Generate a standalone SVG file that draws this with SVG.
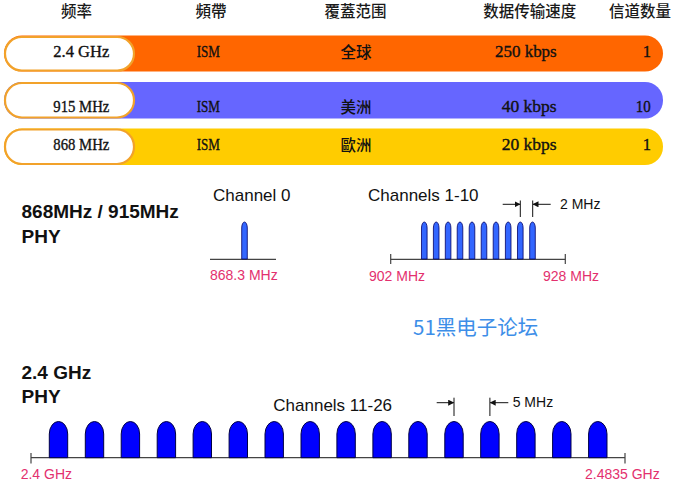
<svg xmlns="http://www.w3.org/2000/svg" width="681" height="491" viewBox="0 0 681 491">
<style>
.hdr{font-family:"Noto Sans CJK SC","Liberation Sans",sans-serif;font-size:15.5px;font-weight:500;fill:#1a1a1a;text-anchor:middle}
.cell{font-family:"Liberation Serif","Noto Sans CJK SC",serif;font-size:16.5px;fill:#111;stroke:#111;stroke-width:0.35}
.cjk{font-family:"Noto Sans CJK SC",sans-serif;font-size:15.5px;font-weight:500;fill:#111;text-anchor:middle}
.pill{fill:#fff;stroke:#f2a22a;stroke-width:2.2}
.phy{font-family:"Liberation Sans",Arial,sans-serif;font-size:19px;font-weight:bold;fill:#111}
.ch{font-family:"Liberation Sans",Arial,sans-serif;font-size:17px;fill:#111}
.dim{font-family:"Liberation Sans",Arial,sans-serif;font-size:14px;fill:#111}
.freq{font-family:"Liberation Sans",Arial,sans-serif;font-size:14px;fill:#e3306e}
.axis{stroke:#444;stroke-width:1.2;fill:none}
.spike{fill:#3366ff;stroke:#000066;stroke-width:0.8}
.hump{fill:#0000ff;stroke:#000044;stroke-width:1}
.arr{stroke:#111;stroke-width:1;fill:none}
</style>
<defs>
<marker id="ah" markerWidth="6" markerHeight="6" refX="5.5" refY="3" orient="auto" markerUnits="userSpaceOnUse">
<path d="M0,0 L6,3 L0,6 Z" fill="#111"/>
</marker>
<path id="sp" class="spike" d="M-2.8,259 V228 A2.8,6 0 0 1 2.8,228 V259 Z"/>
<path id="hp" class="hump" d="M-9.2,457.7 V434 A9.2,12.5 0 0 1 9.2,434 V457.7 Z"/>
</defs>
<rect width="681" height="491" fill="#fff"/>

<g id="header">
<text class="hdr" x="76.5" y="17">频率</text>
<text class="hdr" x="211" y="17">頻帶</text>
<text class="hdr" x="355.5" y="17">覆蓋范围</text>
<text class="hdr" x="529.7" y="17">数据传输速度</text>
<text class="hdr" x="640" y="17">信道数量</text>
</g>

<g id="row-24ghz">
<rect x="4" y="35.5" width="659" height="36" rx="18" fill="#ff6600"/>
<rect class="pill" x="5" y="37" width="129" height="33.5" rx="16.7"/>
<text class="cell" x="53.3" y="56.7" textLength="56" lengthAdjust="spacingAndGlyphs">2.4 GHz</text>
<text class="cell" x="196.7" y="56.7" textLength="23.3" lengthAdjust="spacingAndGlyphs">ISM</text>
<text class="cjk" x="356" y="57.5">全球</text>
<text class="cell" x="495" y="56.7" textLength="61.7" lengthAdjust="spacingAndGlyphs">250 kbps</text>
<text class="cell" x="651" y="56.7" text-anchor="end">1</text>
</g>

<g id="row-915mhz">
<rect x="4" y="82" width="659" height="36.5" rx="18" fill="#6666ff"/>
<rect class="pill" x="5" y="83" width="129" height="34.5" rx="17"/>
<text class="cell" x="53.3" y="112.3" textLength="56" lengthAdjust="spacingAndGlyphs">915 MHz</text>
<text class="cell" x="196.7" y="112.3" textLength="23.3" lengthAdjust="spacingAndGlyphs">ISM</text>
<text class="cjk" x="356" y="113">美洲</text>
<text class="cell" x="501.7" y="112.3" textLength="55" lengthAdjust="spacingAndGlyphs">40 kbps</text>
<text class="cell" x="635.7" y="112.3" textLength="15" lengthAdjust="spacingAndGlyphs">10</text>
</g>

<g id="row-868mhz">
<rect x="4" y="128.5" width="659" height="36.5" rx="18" fill="#ffcc00"/>
<rect class="pill" x="5" y="129.5" width="129" height="34.5" rx="17"/>
<text class="cell" x="53.3" y="150.3" textLength="56" lengthAdjust="spacingAndGlyphs">868 MHz</text>
<text class="cell" x="196.7" y="150.3" textLength="23.3" lengthAdjust="spacingAndGlyphs">ISM</text>
<text class="cjk" x="356" y="151">歐洲</text>
<text class="cell" x="501.7" y="150.3" textLength="55" lengthAdjust="spacingAndGlyphs">20 kbps</text>
<text class="cell" x="651" y="150.3" text-anchor="end">1</text>
</g>

<g id="phy-868-915">
<text class="phy" x="21.5" y="218">868MHz / 915MHz</text>
<text class="phy" x="21.5" y="242.5">PHY</text>
</g>

<g id="channel-0">
<text class="ch" x="213" y="200.5">Channel 0</text>
<line class="axis" x1="210" y1="259.3" x2="276" y2="259.3"/>
<use href="#sp" x="244.5"/>
<text class="freq" x="210" y="280">868.3 MHz</text>
</g>

<g id="channels-1-10">
<text class="ch" x="368" y="200.5">Channels 1-10</text>
<line class="axis" x1="390.7" y1="259.3" x2="565.3" y2="259.3"/>
<line class="axis" x1="390.7" y1="254" x2="390.7" y2="264"/>
<line class="axis" x1="565.3" y1="254" x2="565.3" y2="264"/>
<use href="#sp" x="424.3"/>
<use href="#sp" x="436.2"/>
<use href="#sp" x="448.1"/>
<use href="#sp" x="460"/>
<use href="#sp" x="472"/>
<use href="#sp" x="484"/>
<use href="#sp" x="496"/>
<use href="#sp" x="508.2"/>
<use href="#sp" x="520.3"/>
<use href="#sp" x="532.5"/>
<text class="dim" x="560" y="208.5">2 MHz</text>
<text class="freq" x="369" y="280.5">902 MHz</text>
<text class="freq" x="543" y="280.5">928 MHz</text>
</g>

<g id="watermark">
<text x="413" y="335" font-family="'Noto Sans CJK SC','Liberation Sans',sans-serif" font-size="20.5" fill="#3d8ee8">51黑电子论坛</text>
</g>

<g id="phy-24ghz">
<text class="phy" x="21.5" y="378.5">2.4 GHz</text>
<text class="phy" x="21.5" y="403">PHY</text>
</g>

<g id="channels-11-26">
<text class="ch" x="273.3" y="411">Channels 11-26</text>
<line class="axis" x1="31" y1="457.7" x2="625" y2="457.7"/>
<line class="axis" x1="31" y1="453" x2="31" y2="463.5"/>
<line class="axis" x1="625" y1="453" x2="625" y2="463.5"/>
<use href="#hp" x="58.5"/>
<use href="#hp" x="94.5"/>
<use href="#hp" x="130.4"/>
<use href="#hp" x="166.4"/>
<use href="#hp" x="202.3"/>
<use href="#hp" x="238.3"/>
<use href="#hp" x="274.2"/>
<use href="#hp" x="310.2"/>
<use href="#hp" x="346.1"/>
<use href="#hp" x="382.1"/>
<use href="#hp" x="418"/>
<use href="#hp" x="454"/>
<use href="#hp" x="489.9"/>
<use href="#hp" x="525.9"/>
<use href="#hp" x="561.8"/>
<use href="#hp" x="597.8"/>
<text class="dim" x="512.7" y="407">5 MHz</text>
<text class="freq" x="20.7" y="478.5">2.4 GHz</text>
<text class="freq" x="585" y="478.5">2.4835 GHz</text>
</g>

<g id="connectors">
<line class="arr" x1="520.3" y1="200.5" x2="520.3" y2="217"/>
<line class="arr" x1="532.7" y1="200.5" x2="532.7" y2="217"/>
<line class="arr" x1="502.7" y1="204.3" x2="520" y2="204.3" marker-end="url(#ah)"/>
<line class="arr" x1="550.7" y1="204.3" x2="533" y2="204.3" marker-end="url(#ah)"/>
<line class="arr" x1="454" y1="397.7" x2="454" y2="416"/>
<line class="arr" x1="489.9" y1="397.7" x2="489.9" y2="416"/>
<line class="arr" x1="436.7" y1="402.7" x2="453.7" y2="402.7" marker-end="url(#ah)"/>
<line class="arr" x1="508.3" y1="402.7" x2="490.2" y2="402.7" marker-end="url(#ah)"/>
</g>
</svg>
